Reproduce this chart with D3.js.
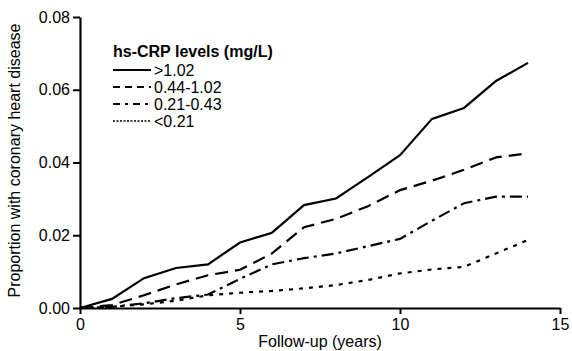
<!DOCTYPE html>
<html>
<head>
<meta charset="utf-8">
<script src="https://cdn.jsdelivr.net/npm/d3@7"></script>
<style>
  body { margin: 0; background: #fff; }
  text { font-family: "Liberation Sans", Arial, sans-serif; fill: #000; }
</style>
</head>
<body>
<div class="container"></div>
<script>
var svgWidth = 572;
var svgHeight = 351;

var margin = { top: 17, right: 12, bottom: 43, left: 80 };
var chartWidth = svgWidth - margin.left - margin.right;
var chartHeight = svgHeight - margin.top - margin.bottom;

// data
var years = [0, 1, 2, 3, 4, 5, 6, 7, 8, 9, 10, 11, 12, 13, 14];
var crpHigh = [0, 0.0025, 0.0082, 0.011, 0.012, 0.018, 0.0207, 0.0283, 0.0301, 0.036, 0.042, 0.052, 0.055, 0.0624, 0.0674];
var crpMidHigh = [0, 0.0008, 0.0035, 0.0065, 0.009, 0.0105, 0.015, 0.0222, 0.0245, 0.028, 0.0324, 0.035, 0.038, 0.0414, 0.0425];
var crpMidLow = [0, 0.0003, 0.0013, 0.0027, 0.0037, 0.008, 0.012, 0.0137, 0.015, 0.017, 0.019, 0.024, 0.0288, 0.0306, 0.0306];
var crpLow = [0, 0.0003, 0.001, 0.002, 0.0035, 0.0042, 0.0047, 0.0054, 0.0063, 0.0077, 0.0095, 0.0106, 0.0113, 0.015, 0.0187];
var seriesNames = [">1.02", "0.44-1.02", "0.21-0.43", "<0.21"];
var xTicks = [0, 5, 10, 15];
var yTicks = [0, 0.02, 0.04, 0.06, 0.08];

var series = [crpHigh, crpMidHigh, crpMidLow, crpLow];
var dashes = [null, "13,7", "12,5,3,5", "4,6"];
var legendDashes = [null, "7,5", "7,5,3,5", "2,1.5"];

var svg = d3.select(".container")
    .append("svg")
    .attr("width", svgWidth)
    .attr("height", svgHeight);

var chartGroup = svg.append("g")
    .attr("transform", `translate(${margin.left}, ${margin.top})`);

var xScale = d3.scaleLinear().domain([0, 15]).range([0, chartWidth]);
var yScale = d3.scaleLinear().domain([0, 0.08]).range([chartHeight, 0]);

var line = d3.line()
    .x((d, i) => xScale(years[i]))
    .y(d => yScale(d));

series.forEach((values, i) => {
    chartGroup.append("path")
        .datum(values)
        .attr("d", line)
        .attr("fill", "none")
        .attr("stroke", "#000")
        .attr("stroke-width", 2.2)
        .attr("stroke-dasharray", dashes[i]);
});

var leftAxis = d3.axisLeft(yScale).tickValues(yTicks).tickFormat(d3.format(".2f"))
    .tickSize(7).tickPadding(3).tickSizeOuter(0);
var bottomAxis = d3.axisBottom(xScale).tickValues(xTicks).tickFormat(d3.format("d"))
    .tickSize(6).tickPadding(5).tickSizeOuter(0);

var yAxisG = chartGroup.append("g").call(leftAxis);
var xAxisG = chartGroup.append("g")
    .attr("transform", `translate(0, ${chartHeight})`)
    .call(bottomAxis);

[yAxisG, xAxisG].forEach(g => {
    g.select(".domain").attr("stroke-width", 2.2);
    g.selectAll(".tick line").attr("stroke-width", 2);
    g.selectAll("text")
        .style("font-size", "16px")
        .style("font-family", "'Liberation Sans', Arial, sans-serif");
});

// axis titles
svg.append("text")
    .attr("x", margin.left + xScale(7.5))
    .attr("y", 347)
    .attr("text-anchor", "middle")
    .style("font-size", "16px")
    .text("Follow-up (years)");

svg.append("text")
    .attr("transform", `translate(20, ${margin.top + chartHeight / 2 - 2}) rotate(-90)`)
    .attr("text-anchor", "middle")
    .style("font-size", "16px")
    .text("Proportion with coronary heart disease");

// legend
var legend = svg.append("g").attr("transform", "translate(113, 57)");
legend.append("text")
    .attr("x", 0)
    .attr("y", 0)
    .style("font-size", "16px")
    .style("font-weight", "bold")
    .text("hs-CRP levels (mg/L)");

seriesNames.forEach((name, i) => {
    var y = 13 + i * 17;
    legend.append("line")
        .attr("x1", 0).attr("x2", 38)
        .attr("y1", y).attr("y2", y)
        .attr("stroke", "#000")
        .attr("stroke-width", i == 3 ? 1.6 : 2)
        .attr("stroke-dasharray", legendDashes[i]);
    legend.append("text")
        .attr("x", 41)
        .attr("y", y + 6)
        .style("font-size", "16px")
        .text(name);
});
</script>
</body>
</html>
